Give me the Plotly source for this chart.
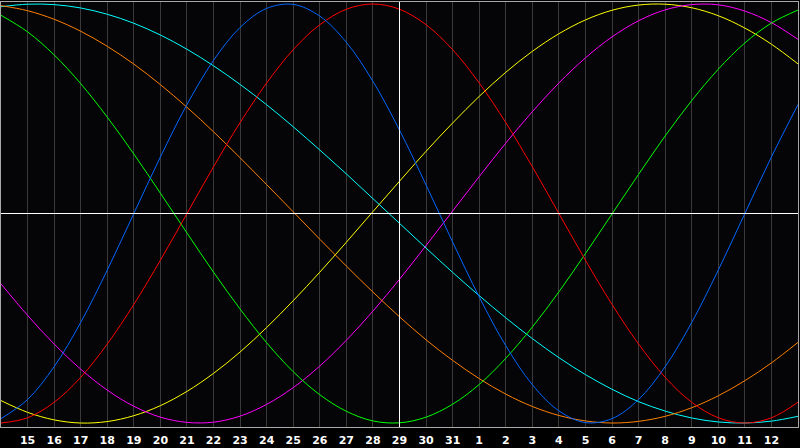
import plotly.graph_objects as go

# day numbers along the bottom (14th of one month to the 13th of the next)
days = [14, 15, 16, 17, 18, 19, 20, 21, 22, 23, 24, 25, 26, 27, 28, 29, 30, 31,
        1, 2, 3, 4, 5, 6, 7, 8, 9, 10, 11, 12, 13]
today = 29

# cycle values in percent, one per day
physical = [-97.9, -88.8, -73.1, -52.0, -27.0, 0.0, 27.0, 52.0, 73.1, 88.8, 97.9,
            99.8, 94.2, 81.7, 63.1, 39.8, 13.6, -13.6, -39.8, -63.1, -81.7, -94.2,
            -99.8, -97.9, -88.8, -73.1, -52.0, -27.0, 0.0, 27.0, 52.0]
emotional = [-100.0, -97.5, -90.1, -78.2, -62.3, -43.4, -22.3, 0.0, 22.3, 43.4, 62.3,
             78.2, 90.1, 97.5, 100.0, 97.5, 90.1, 78.2, 62.3, 43.4, 22.3, 0.0,
             -22.3, -43.4, -62.3, -78.2, -90.1, -97.5, -100.0, -97.5, -90.1]
intellectual = [94.6, 86.7, 75.7, 62.0, 46.0, 28.4, 9.7, -9.3, -28.0, -45.6, -61.7,
                -75.5, -86.5, -94.4, -99.0, -99.9, -97.2, -91.0, -81.6, -69.1, -54.2,
                -37.4, -19.1, -0.2, 18.7, 37.0, 53.9, 68.9, 81.4, 90.9, 97.1]
aesthetic = [-89.3, -94.9, -98.5, -100.0, -99.3, -96.5, -91.7, -84.9, -76.3, -66.1,
             -54.4, -41.6, -28.0, -13.7, 0.9, 15.4, 29.7, 43.2, 55.9, 67.4, 77.4,
             85.8, 92.4, 97.0, 99.5, 99.9, 98.2, 94.4, 88.5, 80.8, 71.4]
intuitive = [-33.6, -48.6, -62.3, -74.3, -84.3, -92.0, -97.2, -99.7, -99.6, -96.7,
             -91.1, -83.1, -72.8, -60.5, -46.6, -31.4, -15.3, 1.2, 17.6, 33.6, 48.6,
             62.3, 74.3, 84.3, 92.0, 97.2, 99.7, 99.6, 96.6, 91.1, 83.1]
spiritual = [98.7, 99.9, 99.7, 98.1, 95.1, 90.8, 85.2, 78.4, 70.5, 61.6, 51.9, 41.4,
             30.3, 18.9, 7.1, -4.7, -16.5, -28.1, -39.2, -49.8, -59.7, -68.8, -76.9,
             -83.9, -89.8, -94.3, -97.6, -99.5, -100.0, -99.1, -96.8]
awareness = [99.2, 96.8, 92.7, 87.0, 79.8, 71.3, 61.5, 50.7, 39.0, 26.6, 13.8, 0.8,
             -12.3, -25.1, -37.5, -49.3, -60.3, -70.1, -78.8, -86.2, -92.1, -96.4,
             -99.0, -100.0, -99.2, -96.8, -92.7, -87.0, -79.8, -71.3, -61.5]

series = [
    (aesthetic, '#ffff00'),
    (intuitive, '#ff00ff'),
    (spiritual, '#00ffff'),
    (awareness, '#ff8000'),
    (intellectual, '#00ff00'),
    (emotional, '#ff0000'),
    (physical, '#0066ff'),
]

x = list(range(len(days)))
today_x = x[days.index(today, 15)]

fig = go.Figure()
for values, colour in series:
    fig.add_trace(go.Scatter(x=x, y=values, mode='lines', hoverinfo='skip',
                             line=dict(color=colour, width=1, shape='spline')))

# today marker and zero line
fig.add_vline(x=today_x, line=dict(color='white', width=1))
fig.add_hline(y=0, line=dict(color='white', width=1))

fig.update_xaxes(range=[x[0], x[-1]], tickvals=x[1:-1], ticktext=[str(d) for d in days[1:-1]],
                 showgrid=True, gridcolor='#3a3a3a', gridwidth=1, zeroline=False,
                 showline=True, linecolor='#a8a8a8', linewidth=1, mirror=True,
                 ticks='outside', ticklen=3, tickcolor='rgba(0,0,0,0)',
                 tickfont=dict(family='DejaVu Sans', size=11, color='white', weight='bold'))
fig.update_yaxes(range=[-101.9, 100.95], showgrid=False, zeroline=False, showticklabels=False,
                 showline=True, linecolor='#a8a8a8', linewidth=1, mirror=True)

fig.update_layout(width=800, height=448, showlegend=False,
                  margin=dict(l=1, r=1, t=1, b=20),
                  paper_bgcolor='#000000', plot_bgcolor='#050508')

# page body has a default margin, drop it so the chart fills the window
fig.write_html("out.html", config={'displayModeBar': False},
               post_script="document.body.style.margin='0';")
